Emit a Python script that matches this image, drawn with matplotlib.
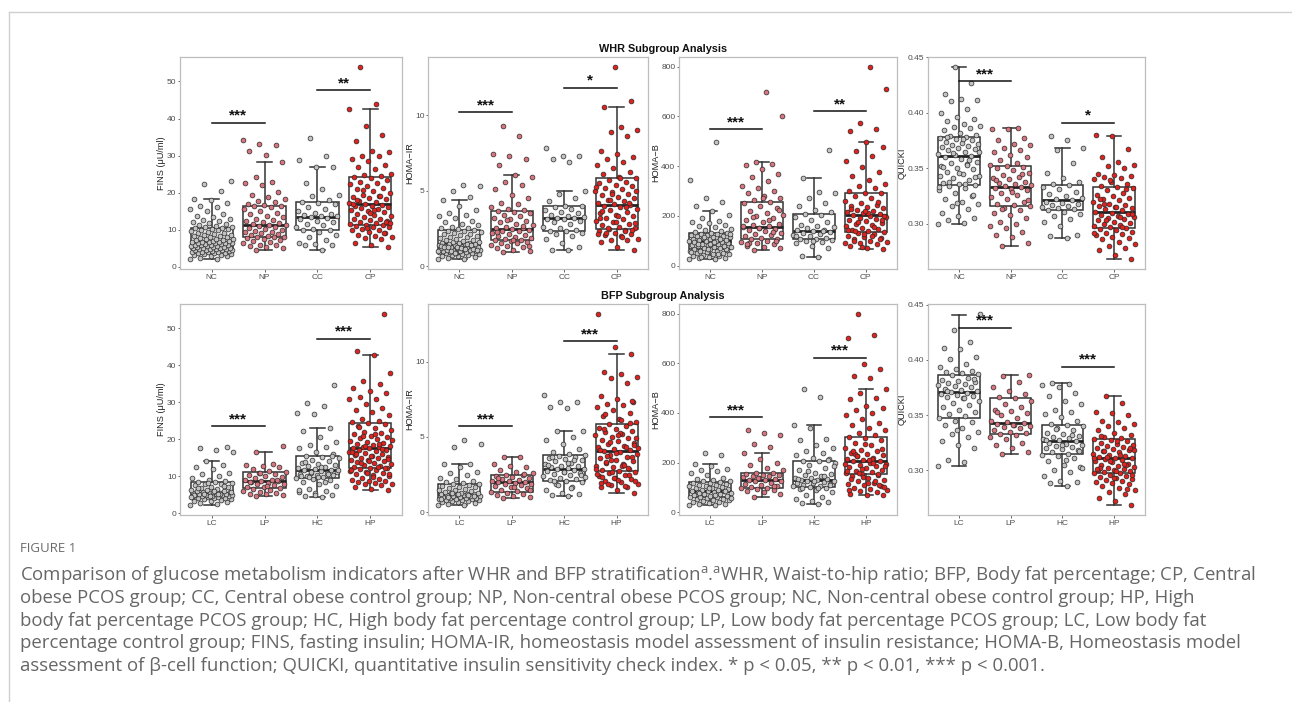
import numpy as np
import matplotlib.pyplot as plt
from matplotlib.lines import Line2D

plt.rcParams['font.family'] = ['Liberation Sans', 'DejaVu Sans']
plt.rcParams['mathtext.fontset'] = 'custom'
plt.rcParams['mathtext.rm'] = 'Open Sans'


def vals(s):
    return [float(v) for v in s.split()]


whr_groups = ['NC', 'NP', 'CC', 'CP']
bfp_groups = ['LC', 'LP', 'HC', 'HP']

# ---- WHR subgroups: points ----
fins_nc = vals("2.0 2.2 2.5 2.8 3.0 3.1 3.3 3.4 3.5 3.6 3.7 3.8 3.9 4.0 4.0 4.1 4.2 4.3 4.4 4.4 4.5 4.6 4.7 4.7 4.8 "
               "4.9 5.0 5.0 5.1 5.2 5.3 5.3 5.4 5.5 5.6 5.7 5.8 5.9 6.0 6.0 6.1 6.2 6.3 6.4 6.5 6.5 6.6 6.7 6.8 6.8 "
               "6.9 7.0 7.1 7.3 7.4 7.5 7.6 7.8 8.0 8.1 8.3 8.4 8.5 8.7 8.9 9.0 9.2 9.4 9.6 9.8 10.0 10.1 10.3 10.4 10.5 "
               "10.6 10.8 11.0 11.2 11.5 11.8 12.0 12.3 12.6 13.0 13.4 13.8 14.2 15.0 15.5 16.0 16.5 17.2 18.0 18.2 20.5 22.3 23.1")
fins_np = vals("4.5 5.0 5.3 5.5 5.8 6.0 6.3 6.6 7.0 7.3 7.6 7.8 7.9 8.0 8.1 8.3 8.5 8.8 9.0 9.3 9.5 9.7 9.9 10.2 10.5 "
               "10.7 11.0 11.2 11.4 11.5 11.7 12.0 12.3 12.6 13.0 13.4 13.8 14.2 14.6 15.0 15.5 16.0 16.3 16.5 16.7 17.0 "
               "17.5 17.8 18.3 18.8 19.5 20.2 22.0 22.5 23.0 24.3 28.4 30.2 31.3 32.9 33.0 34.3")
fins_cc = vals("4.5 5.8 6.0 6.1 6.3 7.2 8.0 8.5 9.5 9.8 10.0 10.2 10.8 11.2 11.5 12.0 12.3 12.8 13.2 13.5 13.6 13.8 14.0 "
               "14.2 14.5 15.0 15.5 16.2 17.0 17.3 17.6 18.0 19.2 19.3 21.0 22.7 26.8 26.8 28.9 29.8 34.8")
fins_cp = vals("5.3 5.8 6.5 7.4 7.8 8.0 8.3 8.6 9.2 9.5 9.8 10.0 10.3 10.6 10.8 11.0 11.2 11.3 11.5 11.8 12.0 12.3 12.5 "
               "12.8 13.0 13.4 13.8 14.0 14.3 14.7 15.0 15.2 15.5 15.8 16.0 16.3 16.5 16.8 16.9 17.2 17.5 17.8 18.2 18.5 "
               "18.8 19.0 19.5 20.0 20.5 21.0 21.3 21.8 22.3 22.6 23.0 23.5 24.0 24.3 24.5 24.8 25.0 26.3 26.8 27.5 28.5 "
               "29.0 29.8 30.0 31.0 31.3 34.0 35.5 38.0 42.7 44.0 54.0 12.1 14.6 17.0 19.2 20.8 11.9 15.4 18.0 9.0 10.4")

ir_nc = vals("0.45 0.5 0.55 0.6 0.65 0.7 0.72 0.75 0.8 0.82 0.85 0.88 0.9 0.92 0.95 0.97 1.0 1.0 1.02 1.05 1.08 1.1 "
             "1.12 1.15 1.18 1.2 1.22 1.25 1.28 1.3 1.32 1.35 1.38 1.4 1.42 1.45 1.45 1.48 1.5 1.52 1.55 1.58 1.6 1.65 "
             "1.7 1.75 1.8 1.85 1.9 1.95 2.0 2.05 2.1 2.15 2.2 2.25 2.3 2.35 2.4 2.45 2.5 2.55 2.6 2.7 2.8 2.9 3.0 3.2 "
             "3.3 3.4 3.5 3.7 4.0 4.35 4.6 5.0 5.3 5.4 1.06 1.14 1.24 1.34 1.44 1.0 1.1 1.2 1.3 1.4 0.9 0.98 1.16 1.26")
ir_np = vals("0.95 1.0 1.1 1.2 1.3 1.35 1.4 1.5 1.55 1.6 1.65 1.7 1.75 1.8 1.85 1.9 2.0 2.05 2.1 2.2 2.3 2.35 2.4 2.45 "
             "2.5 2.55 2.6 2.7 2.8 2.9 3.0 3.1 3.2 3.3 3.4 3.5 3.6 3.65 3.7 3.8 3.9 4.1 4.2 4.5 4.7 5.1 5.4 5.6 5.9 6.0 "
             "6.7 7.1 7.3 7.4 8.6 9.3 1.35 1.75 2.25 2.65 3.05")
ir_cc = vals("1.05 1.1 1.3 1.5 1.8 2.0 2.1 2.2 2.3 2.35 2.4 2.5 2.6 2.8 2.9 3.0 3.1 3.15 3.2 3.2 3.25 3.3 3.4 3.5 3.6 "
             "3.7 3.8 3.9 3.95 4.0 4.3 4.5 4.8 5.0 6.9 7.1 7.3 7.3 7.8")
ir_cp = vals("1.05 1.3 1.6 1.7 1.75 1.8 2.0 2.05 2.1 2.2 2.3 2.4 2.45 2.5 2.6 2.7 2.8 2.9 3.0 3.1 3.2 3.3 3.4 3.5 3.6 "
             "3.7 3.8 3.9 4.0 4.05 4.1 4.2 4.3 4.4 4.5 4.6 4.7 4.8 4.9 5.0 5.1 5.2 5.3 5.4 5.5 5.6 5.7 5.85 5.9 6.1 6.2 "
             "6.5 6.7 6.9 7.1 7.2 7.4 7.6 8.6 8.9 9.0 9.2 10.5 10.9 13.2 2.15 2.35 2.55 2.85 3.35 3.65 4.15 4.75 5.25 "
             "1.9 2.2 2.4 2.9 3.2 3.9 4.4 5.0 5.8")

hb_nc = vals("25 28 30 32 35 38 40 42 45 48 50 52 55 57 60 62 64 65 67 70 72 74 76 78 80 82 84 86 88 90 92 94 96 98 "
             "100 100 102 104 106 108 110 112 114 116 118 120 122 124 126 128 130 132 135 138 142 148 155 160 165 170 "
             "175 180 190 205 220 240 255 272 345 497 58 68 85 95 105 115 125 96 88 78 66 55 45 35")
hb_np = vals("62 70 75 80 85 90 95 100 105 108 112 118 122 128 132 138 142 148 152 155 158 162 168 175 182 190 198 205 "
             "212 220 230 240 250 255 262 270 280 290 300 310 320 340 355 370 390 405 410 415 600 700 92 98 150 160 "
             "185 195 225 270 88 135")
hb_cc = vals("35 38 70 80 90 95 100 103 105 108 112 118 122 128 132 136 140 142 145 150 155 160 165 175 185 195 205 "
             "208 215 225 240 250 270 290 295 352 465 100 120 140")
hb_cp = vals("68 72 78 85 90 95 100 105 110 115 120 125 130 135 138 142 148 152 158 162 168 172 178 182 188 192 196 200 "
             "203 206 210 215 220 225 230 235 240 245 250 260 270 280 290 293 300 310 320 330 345 360 375 395 420 440 "
             "460 475 497 540 548 575 712 800 98 108 128 145 155 175 198 212 228 255 75 92 118 140 185 218")

qk_nc = vals("0.300 0.301 0.303 0.305 0.307 0.310 0.313 0.316 0.318 0.320 0.322 0.325 0.328 0.330 0.332 0.334 0.335 "
             "0.336 0.337 0.339 0.341 0.343 0.345 0.347 0.349 0.350 0.352 0.354 0.355 0.356 0.358 0.360 0.361 0.362 "
             "0.363 0.365 0.366 0.367 0.368 0.369 0.370 0.371 0.372 0.373 0.374 0.375 0.376 0.377 0.378 0.379 0.380 "
             "0.382 0.384 0.386 0.387 0.388 0.390 0.392 0.394 0.396 0.400 0.403 0.410 0.411 0.412 0.417 0.427 0.441 "
             "0.333 0.336 0.338 0.342 0.346 0.351 0.357 0.364 0.365 0.376 0.378 0.326 0.319 0.343 0.353")
qk_np = vals("0.280 0.283 0.288 0.290 0.293 0.296 0.298 0.300 0.302 0.305 0.308 0.310 0.312 0.314 0.316 0.317 0.318 "
             "0.320 0.322 0.324 0.326 0.328 0.330 0.331 0.332 0.333 0.334 0.335 0.336 0.337 0.338 0.340 0.341 0.342 "
             "0.344 0.346 0.348 0.350 0.351 0.352 0.353 0.355 0.357 0.360 0.362 0.365 0.366 0.368 0.371 0.372 0.375 "
             "0.377 0.385 0.385 0.386 0.313 0.321 0.329 0.339 0.345")
qk_cc = vals("0.287 0.289 0.290 0.298 0.302 0.304 0.307 0.309 0.311 0.312 0.313 0.314 0.315 0.316 0.317 0.318 0.319 "
             "0.320 0.321 0.322 0.323 0.325 0.327 0.329 0.331 0.333 0.335 0.336 0.338 0.341 0.346 0.355 0.366 0.368 "
             "0.375 0.379")
qk_cp = vals("0.268 0.272 0.276 0.278 0.280 0.282 0.284 0.286 0.287 0.288 0.290 0.291 0.292 0.293 0.294 0.295 0.296 "
             "0.297 0.298 0.299 0.300 0.301 0.302 0.303 0.304 0.305 0.306 0.307 0.308 0.309 0.310 0.311 0.312 0.313 "
             "0.314 0.315 0.316 0.317 0.318 0.320 0.321 0.322 0.323 0.325 0.326 0.328 0.330 0.332 0.333 0.334 0.336 "
             "0.338 0.340 0.341 0.342 0.343 0.344 0.345 0.350 0.352 0.353 0.356 0.360 0.367 0.379 0.380 0.297 0.303 "
             "0.309 0.315 0.322 0.331 0.339 0.292 0.306 0.318")

# ---- BFP subgroups: points ----
fins_lc = vals("2.1 2.5 2.8 3.0 3.2 3.4 3.6 3.8 3.9 4.0 4.1 4.2 4.3 4.4 4.5 4.6 4.6 4.7 4.8 4.9 5.0 5.0 5.1 5.2 5.3 "
               "5.4 5.5 5.5 5.6 5.7 5.8 5.9 6.0 6.2 6.4 6.6 6.8 7.0 7.2 7.5 7.8 8.0 8.2 8.4 8.5 8.8 9.0 9.5 10.0 10.5 "
               "11.0 12.0 12.5 13.0 14.0 16.5 17.0 17.5 18.0 4.7 4.9 5.1 5.3 5.6 6.1 6.7 7.3 8.1 4.4 5.2")
fins_lp = vals("4.6 5.0 5.2 5.3 5.5 5.8 6.0 6.3 6.6 6.8 7.0 7.2 7.5 7.8 8.0 8.2 8.4 8.6 8.7 8.9 9.1 9.4 9.7 10.0 10.3 "
               "10.6 11.0 11.2 11.5 12.0 12.5 12.8 13.0 13.2 16.5 18.2 7.4 8.5 9.0 10.8")
fins_hc = vals("4.5 4.7 5.0 5.5 5.8 6.0 6.5 7.3 8.0 8.5 9.0 9.3 9.6 9.8 10.0 10.2 10.4 10.6 10.8 11.0 11.2 11.4 11.6 "
               "11.8 12.0 12.2 12.5 12.8 13.0 13.3 13.6 14.0 14.5 15.0 15.3 15.6 16.0 16.5 17.5 17.8 18.5 19.3 20.5 "
               "22.3 23.1 26.8 27.0 29.0 29.8 34.8 9.7 10.1 10.5 11.1 11.7 12.4 13.8 15.5 4.9 6.2 8.3 9.9")
fins_hp = vals("6.2 6.5 7.0 7.5 7.8 8.0 8.2 8.4 8.6 8.8 9.0 9.3 9.6 10.0 10.3 10.6 10.9 11.2 11.5 11.8 12.0 12.1 12.3 "
               "12.5 12.8 13.0 13.2 13.5 13.8 14.0 14.3 14.5 14.8 15.0 15.2 15.5 15.7 16.0 16.2 16.5 16.8 17.0 17.2 17.5 "
               "17.6 17.8 18.0 18.3 18.5 18.8 19.0 19.3 19.6 20.0 20.3 20.6 21.0 21.3 21.6 22.0 22.5 23.0 23.5 24.0 24.4 "
               "24.6 25.0 25.5 26.5 27.5 28.0 28.5 29.5 30.8 31.0 31.5 32.5 33.0 34.0 35.0 35.8 38.0 42.7 44.0 54.0 "
               "11.0 11.7 12.6 13.6 14.6 15.4 16.4 17.3 18.2 19.8 21.5 23.2 12.2 14.2 16.6 18.7 20.8 10.5 9.8 15.9")

ir_lc = vals("0.45 0.5 0.55 0.6 0.65 0.7 0.72 0.75 0.78 0.8 0.82 0.85 0.88 0.9 0.92 0.95 0.97 1.0 1.02 1.05 1.08 1.1 "
             "1.12 1.15 1.18 1.2 1.2 1.22 1.25 1.28 1.3 1.35 1.4 1.45 1.5 1.55 1.6 1.65 1.7 1.75 1.8 1.85 1.9 1.95 2.0 "
             "2.1 2.2 2.3 2.5 2.6 2.7 3.0 3.2 3.2 4.3 4.5 4.8 1.0 1.1 1.2 0.9 1.15 1.25")
ir_lp = vals("0.95 1.0 1.1 1.15 1.2 1.3 1.35 1.4 1.5 1.6 1.7 1.75 1.8 1.85 1.9 1.95 2.0 2.0 2.05 2.1 2.15 2.2 2.3 "
             "2.35 2.4 2.45 2.5 2.6 2.7 2.8 3.0 3.1 3.2 3.7 3.7 1.45 1.65 2.25 2.55")
ir_hc = vals("1.1 1.15 1.2 1.3 1.5 1.7 1.9 2.0 2.1 2.15 2.2 2.3 2.4 2.5 2.55 2.6 2.7 2.75 2.8 2.85 2.9 2.95 3.0 3.05 "
             "3.1 3.2 3.3 3.4 3.5 3.55 3.6 3.7 3.75 3.8 3.9 4.0 4.2 4.5 4.8 5.0 5.4 5.4 6.9 7.0 7.3 7.3 7.8 1.6 2.05 "
             "2.45 2.65 3.15 3.45 1.8 2.35 3.25 3.65")
ir_hp = vals("1.3 1.5 1.7 1.7 1.8 1.9 2.0 2.1 2.2 2.3 2.4 2.5 2.6 2.7 2.75 2.8 2.9 3.0 3.1 3.2 3.3 3.4 3.5 3.6 3.7 3.8 "
             "3.9 4.0 4.05 4.1 4.2 4.3 4.4 4.5 4.6 4.7 4.8 4.9 5.0 5.1 5.2 5.3 5.4 5.5 5.6 5.7 5.85 6.0 6.2 6.4 6.6 "
             "6.8 7.0 7.1 7.2 7.3 7.5 7.7 8.6 8.9 9.0 9.2 9.3 10.5 11.0 13.2 1.75 1.85 2.05 2.15 2.35 2.45 2.65 2.85 "
             "3.05 3.35 3.65 3.95 4.15 4.35 4.65 4.95 5.25 5.55 5.95 2.25 2.55 3.15 3.75 4.45 5.15 1.95 2.95 3.45 "
             "4.25 6.1 6.5 7.4")

hb_lc = vals("28 30 32 35 38 40 42 45 48 50 52 55 57 60 62 63 65 67 70 72 75 78 80 82 85 87 88 90 92 95 98 100 102 "
             "105 108 110 112 115 118 120 122 125 128 130 135 140 150 160 165 170 175 185 195 230 240 58 68 78 88 98")
hb_lp = vals("62 75 80 85 90 95 98 100 102 105 110 115 120 125 128 130 132 135 138 142 145 148 150 152 155 157 160 "
             "170 180 190 200 215 240 265 275 312 318 330 108 140")
hb_hc = vals("35 38 40 45 55 60 70 80 90 95 100 103 105 108 110 115 118 120 122 125 128 130 132 135 138 140 145 150 "
             "155 160 170 180 190 200 205 207 215 220 230 240 245 260 270 290 295 340 352 465 497 112 126 136 148 "
             "165 185 100 98 210")
hb_hp = vals("68 70 75 80 85 90 95 100 105 110 115 120 125 130 138 145 150 153 158 163 168 172 178 183 188 192 196 200 "
             "205 208 212 216 220 225 230 235 240 245 250 260 270 280 290 300 303 310 320 330 340 350 360 375 390 400 "
             "410 420 430 455 460 480 497 540 548 575 598 700 712 800 102 118 135 155 175 195 215 235 255 275 92 128 "
             "160 185 210 245 110 142 165 198 228")

qk_lc = vals("0.304 0.307 0.309 0.320 0.323 0.326 0.330 0.333 0.335 0.338 0.341 0.344 0.345 0.347 0.349 0.351 0.353 "
             "0.355 0.357 0.359 0.361 0.363 0.365 0.366 0.367 0.368 0.369 0.370 0.371 0.372 0.373 0.374 0.375 0.376 "
             "0.377 0.378 0.379 0.380 0.381 0.382 0.384 0.386 0.387 0.388 0.389 0.390 0.392 0.394 0.396 0.401 0.403 "
             "0.410 0.411 0.416 0.427 0.442 0.365 0.372 0.383 0.336")
qk_lp = vals("0.315 0.316 0.320 0.323 0.325 0.328 0.330 0.332 0.333 0.334 0.335 0.336 0.338 0.339 0.340 0.341 0.342 "
             "0.343 0.344 0.345 0.347 0.350 0.352 0.354 0.355 0.357 0.360 0.363 0.365 0.366 0.369 0.372 0.375 0.380 "
             "0.385 0.386 0.341 0.353")
qk_hc = vals("0.286 0.288 0.289 0.290 0.295 0.298 0.300 0.303 0.305 0.308 0.311 0.313 0.314 0.315 0.316 0.318 0.319 "
             "0.320 0.321 0.322 0.323 0.324 0.325 0.326 0.327 0.328 0.329 0.330 0.331 0.333 0.334 0.336 0.338 0.340 "
             "0.341 0.342 0.345 0.348 0.351 0.353 0.355 0.360 0.363 0.367 0.370 0.375 0.377 0.378 0.379 0.317 0.323 "
             "0.327 0.332 0.337 0.302 0.309")
qk_hp = vals("0.268 0.272 0.275 0.278 0.280 0.282 0.284 0.286 0.287 0.288 0.289 0.290 0.291 0.292 0.293 0.294 0.295 "
             "0.296 0.297 0.297 0.298 0.299 0.300 0.300 0.301 0.302 0.303 0.304 0.305 0.306 0.307 0.308 0.309 0.310 "
             "0.311 0.311 0.312 0.313 0.314 0.315 0.316 0.317 0.318 0.319 0.320 0.321 0.322 0.323 0.324 0.325 0.326 "
             "0.327 0.328 0.329 0.330 0.332 0.334 0.336 0.338 0.340 0.342 0.344 0.345 0.350 0.352 0.353 0.361 0.367 "
             "0.296 0.299 0.302 0.305 0.308 0.311 0.314 0.317 0.320 0.293 0.301 0.306 0.312 0.318 0.326 0.331 0.283")

# box statistics: (q1, median, q3, lower whisker, upper whisker)
fins_whr_box = [(4.8, 6.8, 10.5, 2.0, 18.2), (8.0, 11.4, 16.4, 4.5, 28.4),
                (10.0, 13.5, 17.4, 4.5, 26.8), (11.3, 16.9, 24.3, 5.3, 42.7)]
ir_whr_box = [(1.0, 1.45, 2.4, 0.45, 4.35), (1.7, 2.45, 3.65, 0.95, 6.0),
              (2.35, 3.2, 3.95, 1.05, 5.0), (2.45, 4.05, 5.85, 1.05, 10.5)]
hb_whr_box = [(65, 100, 130, 28, 220), (108, 155, 255, 62, 415),
              (105, 140, 208, 35, 352), (135, 203, 293, 68, 497)]
qk_whr_box = [(0.335, 0.361, 0.378, 0.300, 0.441), (0.316, 0.333, 0.352, 0.280, 0.386),
              (0.312, 0.321, 0.335, 0.287, 0.368), (0.296, 0.311, 0.333, 0.268, 0.379)]
fins_bfp_box = [(4.6, 5.5, 8.4, 2.1, 14.0), (6.8, 8.6, 11.2, 4.6, 16.5),
                (9.6, 11.8, 15.6, 4.5, 23.1), (12.1, 17.6, 24.4, 6.2, 42.7)]
ir_bfp_box = [(0.95, 1.2, 1.9, 0.45, 3.2), (1.35, 2.0, 2.45, 0.95, 3.7),
              (2.1, 2.9, 3.8, 1.1, 5.4), (2.75, 4.05, 5.85, 1.3, 10.5)]
hb_bfp_box = [(62, 88, 122, 28, 195), (100, 130, 157, 62, 240),
              (103, 132, 207, 35, 352), (153, 205, 303, 68, 497)]
qk_bfp_box = [(0.347, 0.371, 0.386, 0.304, 0.441), (0.333, 0.343, 0.365, 0.315, 0.386),
              (0.315, 0.326, 0.341, 0.286, 0.379), (0.297, 0.311, 0.328, 0.268, 0.367)]

# significance brackets: (group a, group b, height, label)
fins_whr_sig = [(1, 2, 38.9, '***'), (3, 4, 47.7, '**')]
ir_whr_sig = [(1, 2, 10.2, '***'), (3, 4, 11.8, '*')]
hb_whr_sig = [(1, 2, 548, '***'), (3, 4, 620, '**')]
qk_whr_sig = [(1, 2, 0.428, '***'), (3, 4, 0.391, '*')]
fins_bfp_sig = [(1, 2, 23.5, '***'), (3, 4, 47.2, '***')]
ir_bfp_sig = [(1, 2, 5.7, '***'), (3, 4, 11.35, '***')]
hb_bfp_sig = [(1, 2, 383, '***'), (3, 4, 622, '***')]
qk_bfp_sig = [(1, 2, 0.429, '***'), (3, 4, 0.394, '***')]

ylabels = ['FINS (\u03bcU/ml)', 'HOMA\u2212IR', 'HOMA\u2212B', 'QUICKI']
yticks = [[0, 10, 20, 30, 40, 50], [0, 5, 10], [0, 200, 400, 600, 800], [0.30, 0.35, 0.40, 0.45]]
ytickfmt = ['{:g}', '{:g}', '{:g}', '{:.2f}']
# distance (px) from the axis line to the right side of the y label
ylabel_gap = [14, 14, 18.5, 21]

point_colors = ['#c3c3c3', '#d8747e', '#c3c3c3', '#e0211d']

rows = [
    (whr_groups, [[fins_nc, fins_np, fins_cc, fins_cp], [ir_nc, ir_np, ir_cc, ir_cp],
                  [hb_nc, hb_np, hb_cc, hb_cp], [qk_nc, qk_np, qk_cc, qk_cp]],
     [fins_whr_box, ir_whr_box, hb_whr_box, qk_whr_box],
     [fins_whr_sig, ir_whr_sig, hb_whr_sig, qk_whr_sig]),
    (bfp_groups, [[fins_lc, fins_lp, fins_hc, fins_hp], [ir_lc, ir_lp, ir_hc, ir_hp],
                  [hb_lc, hb_lp, hb_hc, hb_hp], [qk_lc, qk_lp, qk_hc, qk_hp]],
     [fins_bfp_box, ir_bfp_box, hb_bfp_box, qk_bfp_box],
     [fins_bfp_sig, ir_bfp_sig, hb_bfp_sig, qk_bfp_sig]),
]

W, H = 1292, 702
fig = plt.figure(figsize=(W / 100, H / 100), dpi=100)

# panel frames in pixels: left, right for columns; top, bottom for rows
col_px = [(180, 402), (428, 648), (679, 897), (928, 1145)]
row_px = [(57, 269), (304, 515)]

for r, (groups, data, boxes, sigs) in enumerate(rows):
    top, bot = row_px[r]
    for c in range(4):
        l, rr = col_px[c]
        ax = fig.add_axes([l / W, 1 - bot / H, (rr - l) / W, (bot - top) / H])
        stats = []
        for q1, med, q3, lo, hi in boxes[c]:
            stats.append(dict(q1=q1, med=med, q3=q3, whislo=lo, whishi=hi, fliers=[]))
        ax.bxp(stats, positions=[1, 2, 3, 4], widths=0.8, showfliers=False, capwidths=0.28,
               patch_artist=True,
               boxprops=dict(facecolor='none', edgecolor='#333333', linewidth=1.1),
               whiskerprops=dict(color='#333333', linewidth=1.1),
               capprops=dict(color='#333333', linewidth=1.1),
               medianprops=dict(color='#222222', linewidth=2.0))
        for g, pts in enumerate(data[c]):
            n = len(pts)
            # evenly spread horizontal jitter (golden-ratio sequence)
            jit = ((np.arange(n) * 0.618034 + 0.3 * g) % 1.0 - 0.5) * 0.82
            ax.scatter(g + 1 + jit, pts, s=12, color=point_colors[g], edgecolor='#2a2a2a',
                       linewidth=0.5, zorder=3)
        ax.autoscale(axis='y')
        for a, b, y, lab in sigs[c]:
            ax.plot([a, b], [y, y], color='#111111', lw=1.1, zorder=4)
            ax.annotate(lab, (0.5 * (a + b), y), xytext=(0, 0), textcoords='offset points',
                        ha='center', va='bottom', fontsize=11, fontweight='bold', color='#111111')
        ax.set_xlim(0.4, 4.6)
        ax.set_xticks([1, 2, 3, 4])
        ax.set_xticklabels(groups)
        ax.set_yticks(yticks[c])
        ax.set_yticklabels([ytickfmt[c].format(t) for t in yticks[c]])
        ax.set_ylabel(ylabels[c], fontsize=6.6, color='#222222')
        ax.yaxis.set_label_coords(-ylabel_gap[c] / (rr - l), 0.5)
        ax.tick_params(labelsize=6.0, colors='#4d4d4d', length=1.8, width=0.6, pad=0.8)
        ax.tick_params(axis='x', pad=1.8)
        for sp in ax.spines.values():
            sp.set_color('#bdbdbd')
            sp.set_linewidth(0.9)

# subgroup titles
fig.text(663 / W, 1 - 49 / H, 'WHR Subgroup Analysis', ha='center', va='center',
         fontsize=7.8, fontweight='bold', color='#111111')
fig.text(663 / W, 1 - 296 / H, 'BFP Subgroup Analysis', ha='center', va='center',
         fontsize=7.8, fontweight='bold', color='#111111')

# page frame lines
fig.add_artist(Line2D([9 / W, 1], [1 - 12 / H, 1 - 12 / H], color='#cfcfcf', lw=1))
fig.add_artist(Line2D([9 / W, 9 / W], [0, 1 - 12 / H], color='#cfcfcf', lw=1))

# caption
cap_font = ['Open Sans', 'DejaVu Sans']
fig.text(20 / W, 1 - 549 / H, 'FIGURE 1', fontsize=9.5, color='#6b6b6b', family=cap_font, va='center')
caption = [
    'Comparison of glucose metabolism indicators after WHR and BFP stratification$^{\\mathrm{a}}$.'
    '$^{\\mathrm{a}}$WHR, Waist-to-hip ratio; BFP, Body fat percentage; CP, Central',
    'obese PCOS group; CC, Central obese control group; NP, Non-central obese PCOS group; NC, Non-central obese control group; HP, High',
    'body fat percentage PCOS group; HC, High body fat percentage control group; LP, Low body fat percentage PCOS group; LC, Low body fat',
    'percentage control group; FINS, fasting insulin; HOMA-IR, homeostasis model assessment of insulin resistance; HOMA-B, Homeostasis model',
    'assessment of \u03b2-cell function; QUICKI, quantitative insulin sensitivity check index. * p < 0.05, ** p < 0.01, *** p < 0.001.',
]
cap_y = [576, 598, 621, 643, 666]
for line, y in zip(caption, cap_y):
    fig.text(20 / W, 1 - y / H, line, fontsize=13.4, color='#666666', family=cap_font, va='center')

fig.savefig('out.png', dpi=100)
